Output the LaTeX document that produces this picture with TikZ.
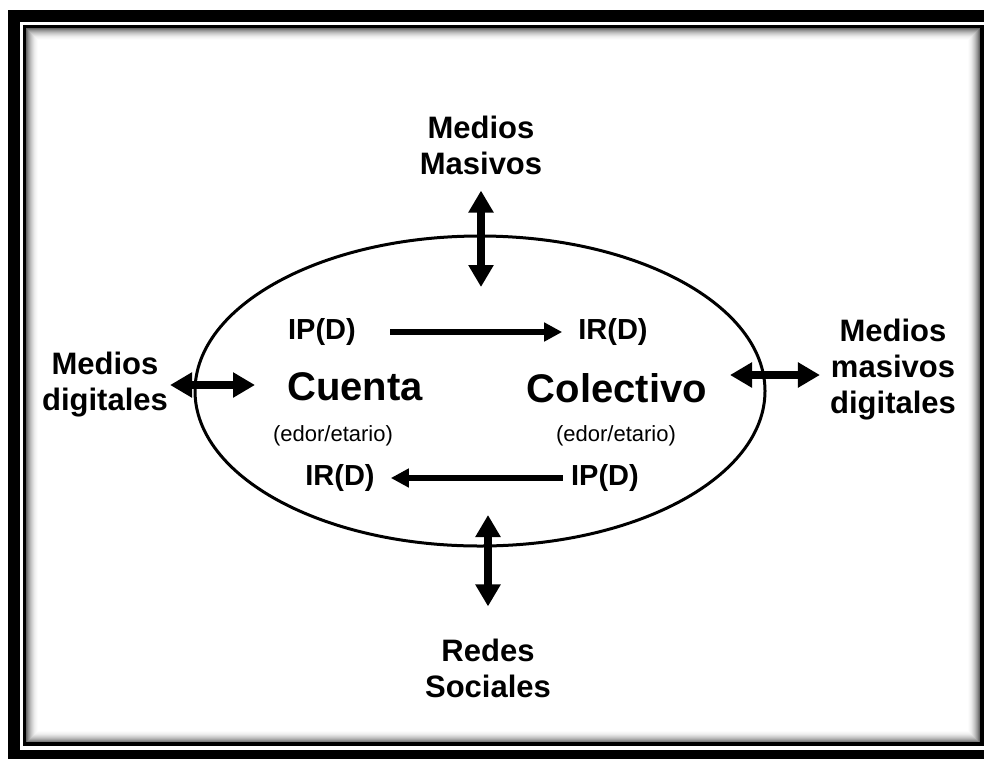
\documentclass[tikz,border=0pt]{standalone}
\usepackage{fontspec}
\setmainfont{Liberation Sans}
\usetikzlibrary{arrows.meta}
\begin{document}
\begin{tikzpicture}[x=1pt,y=-1pt,
  lbl/.style={font=\fontsize{31}{36}\selectfont\bfseries, align=center, inner sep=0pt},
  bigtxt/.style={font=\fontsize{40}{44}\selectfont\bfseries, inner sep=0pt},
  ipd/.style={font=\fontsize{29}{32}\selectfont\bfseries, inner sep=0pt},
  subtxt/.style={font=\fontsize{22}{24}\selectfont, inner sep=0pt},
  dbl/.style={line width=7.5pt, {Triangle[length=22pt,width=24pt]}-{Triangle[length=22pt,width=24pt]}},
  sgl/.style={line width=5.5pt, -{Triangle[length=18pt,width=18pt]}},
]
\useasboundingbox (0,0) rectangle (984,758);
\clip (0,0) rectangle (984,758);
\fill[white] (0,0) rectangle (984,758);
% inner shadow
\foreach \i in {0,...,12} {
  \pgfmathsetmacro\g{int(60*(1-\i/13)*(1-\i/13))}
  \draw[black!\g, line width=1.1pt] (26.5+\i,28.5+\i) rectangle (979.5-\i,742.5-\i);
}
% frame
\draw[line width=12pt] (14,16) rectangle (1000,756);
\draw[line width=3.5pt] (24.5,26.5) rectangle (982,744);
% ellipse
\draw[line width=3pt] (480,391) ellipse [x radius=285, y radius=155];
% labels
\node[lbl] (mm) at (481,145) {Medios\\Masivos};
\node[lbl] (md) at (105,385) {Medios\\digitales};
\node[lbl] (mmd) at (893,370) {Medios\\masivos\\digitales};
\node[lbl] (rs) at (488,668) {Redes\\Sociales};
\node[ipd] (ip1) at (322,332) {IP(D)};
\node[ipd] (ir1) at (613,332) {IR(D)};
\node[bigtxt] (cu) at (355,387) {Cuenta};
\node[bigtxt] (co) at (617,388) {Colectivo};
\node[subtxt] (s1) at (333,436) {(edor/etario)};
\node[subtxt] (s2) at (616,436) {(edor/etario)};
\node[ipd] (ir2) at (340,478) {IR(D)};
\node[ipd] (ip2) at (605,478) {IP(D)};
% free ends
\coordinate (tA) at (481,287);
\coordinate (lA) at (255,385);
\coordinate (rA) at (730,375);
\coordinate (bA) at (488,515);
% connectors
\draw[dbl, shorten <=16pt] (mm.south) -- (tA);
\draw[dbl, shorten <=2pt] (md.east) -- (lA);
\draw[dbl, shorten >=10pt] (rA) -- ([yshift=-5pt]mmd.west);
\draw[dbl, shorten >=32pt] (bA) -- (rs.north);
\draw[sgl, shorten <=34pt, shorten >=16pt] (ip1.east) -- (ir1.west);
\draw[sgl, shorten <=8pt, shorten >=16pt] (ip2.west) -- (ir2.east);
\end{tikzpicture}
\end{document}
